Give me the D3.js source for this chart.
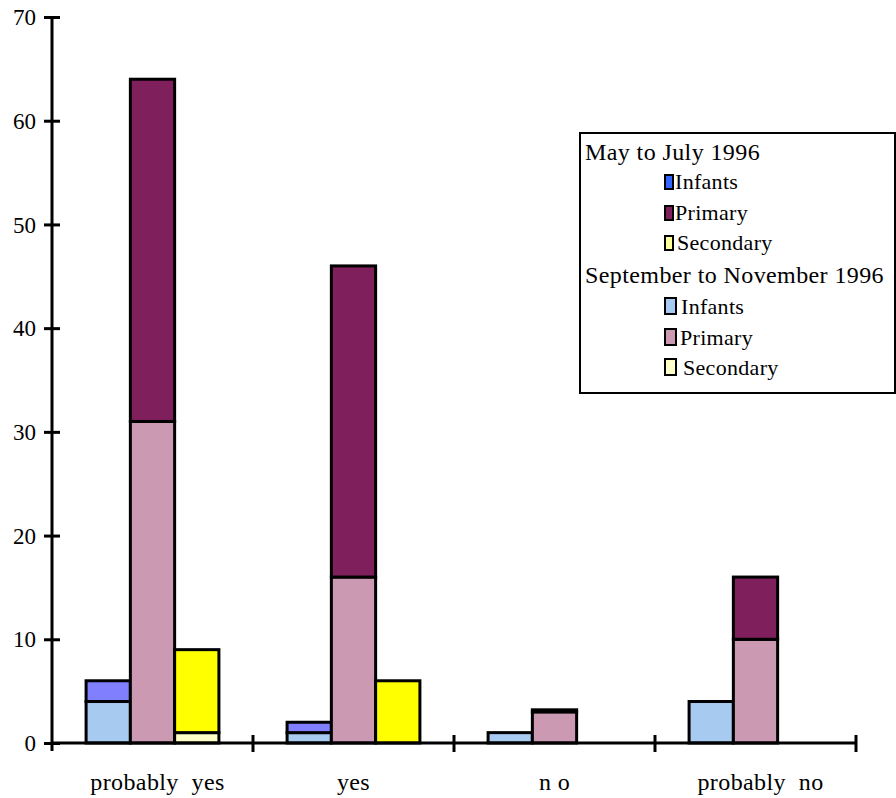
<!DOCTYPE html>
<html>
<head>
<meta charset="utf-8">
<script src="https://cdn.jsdelivr.net/npm/d3@7"></script>
<style>
  html, body { margin: 0; padding: 0; background: #fff; }
  svg { display: block; }
  text { font-family: "Liberation Serif", "Times New Roman", serif; fill: #000; }
</style>
</head>
<body>
<svg id="chart" width="896" height="798"></svg>
<script>
// Answer categories along the x axis
const categories = ["probably yes", "yes", "no", "probably no"];
// School phases, one bar each per category
const phases = ["Infants", "Primary", "Secondary"];
// September to November 1996 (lower segment)
const sepInfants   = [4, 1, 1, 4];
const sepPrimary   = [31, 16, 3, 10];
const sepSecondary = [1, 0, 0, 0];
// May to July 1996 (stacked on top)
const mayInfants   = [2, 1, 0, 0];
const mayPrimary   = [33, 30, 0.2, 6];
const maySecondary = [8, 6, 0, 0];
// Axis ticks
const yTicks = [0, 10, 20, 30, 40, 50, 60, 70];

const sepData = { Infants: sepInfants, Primary: sepPrimary, Secondary: sepSecondary };
const mayData = { Infants: mayInfants, Primary: mayPrimary, Secondary: maySecondary };

const barFill = {
  may: { Infants: "#8080ff", Primary: "#7f1f5c", Secondary: "#ffff00" },
  sep: { Infants: "#a6caf0", Primary: "#cc99b3", Secondary: "#ffffc8" }
};
const swatchFill = {
  may: { Infants: "#3366ff", Primary: "#7f1f5c", Secondary: "#ffff99" },
  sep: { Infants: "#a6caf0", Primary: "#cc99b3", Secondary: "#ffffc8" }
};

const svg = d3.select("#chart");
const plotLeft = 52, plotRight = 856, plotTop = 17, plotBottom = 743;

const x = d3.scaleBand().domain(categories).range([plotLeft, plotRight]).paddingInner(0).paddingOuter(0);
const xInner = d3.scaleBand().domain(phases).range([0, x.bandwidth()]).paddingInner(0).paddingOuter(0.77);
const y = d3.scaleLinear().domain([0, 70]).range([plotBottom, plotTop]);

// Build stacked segments: Sep–Nov at the bottom, May–July above it
const segments = [];
categories.forEach((c, i) => {
  phases.forEach(p => {
    const s = sepData[p][i], m = mayData[p][i];
    if (s > 0) segments.push({ c, p, y0: 0, y1: s, fill: barFill.sep[p] });
    if (m > 0) segments.push({ c, p, y0: s, y1: s + m, fill: barFill.may[p] });
  });
});

svg.append("g").selectAll("rect")
  .data(segments)
  .join("rect")
  .attr("x", d => x(d.c) + xInner(d.p))
  .attr("width", xInner.bandwidth())
  .attr("y", d => y(d.y1))
  .attr("height", d => y(d.y0) - y(d.y1))
  .attr("fill", d => d.fill)
  .attr("stroke", "#000")
  .attr("stroke-width", 3);

// Y axis
const yAxis = d3.axisLeft(y).tickValues(yTicks).tickSizeOuter(0).tickSize(8).tickPadding(0);
const gy = svg.append("g").attr("transform", `translate(${plotLeft},0)`).call(yAxis);
gy.select(".domain").attr("stroke-width", 3).attr("d", `M0,${plotTop}V${plotBottom + 8}`);
gy.selectAll(".tick line").attr("x1", 8).attr("x2", -8).attr("stroke-width", 3);
gy.selectAll(".tick text")
  .attr("x", -16).attr("dy", "0.33em")
  .style("font-family", "'Liberation Serif', serif")
  .style("font-size", "23px")
  .attr("fill", "#000");

// X axis with dividers between categories
const xLine = svg.append("g");
xLine.append("line")
  .attr("x1", plotLeft).attr("x2", plotRight)
  .attr("y1", y(0)).attr("y2", y(0))
  .attr("stroke", "#000").attr("stroke-width", 3);
xLine.selectAll("line.div")
  .data(categories)
  .join("line")
  .attr("class", "div")
  .attr("x1", d => x(d) + x.step()).attr("x2", d => x(d) + x.step())
  .attr("y1", y(0) - 8).attr("y2", y(0) + 9)
  .attr("stroke", "#000").attr("stroke-width", 3);

const catLabels = { "probably yes": "probably\u00a0\u00a0yes", "yes": "yes", "no": "n\u00a0o", "probably no": "probably\u00a0\u00a0no" };
svg.append("g").selectAll("text")
  .data(categories)
  .join("text")
  .attr("x", d => x(d) + x.bandwidth() / 2 + (d.startsWith("probably") ? 5 : 0))
  .attr("y", 790)
  .attr("text-anchor", "middle")
  .style("font-size", "24px")
  .style("letter-spacing", "0.4px")
  .text(d => catLabels[d]);

// Legend
const lg = svg.append("g");
lg.append("rect")
  .attr("x", 580).attr("y", 133).attr("width", 315).attr("height", 260)
  .attr("fill", "#fff").attr("stroke", "#000").attr("stroke-width", 2);

const legendGroups = [
  { title: "May to July 1996", key: "may", titleY: 160, rows: [189, 220, 250], textX: [675, 675, 677], sw: [8, 14] },
  { title: "September to November 1996", key: "sep", titleY: 283, rows: [314, 345, 375], textX: [681, 680, 683], sw: [11, 16] }
];
legendGroups.forEach(g => {
  lg.append("text").attr("x", 585).attr("y", g.titleY)
    .style("font-size", "24px").style("letter-spacing", "0.4px").text(g.title);
  phases.forEach((p, i) => {
    lg.append("rect")
      .attr("x", 665).attr("y", g.rows[i] - g.sw[1])
      .attr("width", g.sw[0]).attr("height", g.sw[1])
      .attr("fill", swatchFill[g.key][p]).attr("stroke", "#000").attr("stroke-width", 2);
    lg.append("text").attr("x", g.textX[i]).attr("y", g.rows[i])
      .style("font-size", "22px").style("letter-spacing", "0.3px").text(p);
  });
});
</script>
</body>
</html>
